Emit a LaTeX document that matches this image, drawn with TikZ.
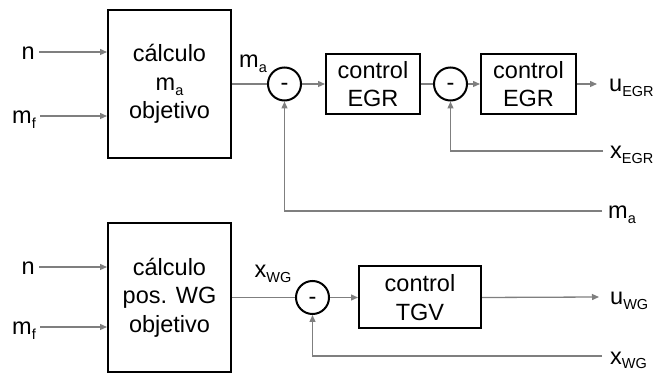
\documentclass[tikz,border=0pt]{standalone}
\usepackage{fontspec}
\setmainfont{Liberation Sans}
\usepackage{tikz}
\usetikzlibrary{arrows.meta,positioning}
\definecolor{SigGray}{HTML}{7F7F7F}
\newcommand{\lowsub}[1]{\raisebox{-5pt}{\fontsize{14.5}{15}\selectfont #1}}

\begin{document}
\begin{tikzpicture}[
    x=1pt, y=-1pt,
    every node/.style={font=\fontsize{23.5}{28.3}\selectfont},
    block/.style={rectangle, draw=black, line width=2pt, align=center, inner sep=0pt},
    calcblock/.style={block, minimum width=123pt, minimum height=148pt},
    ctrlblock/.style={block, minimum width=94pt, minimum height=60pt},
    sumnode/.style={circle, draw=black, line width=2pt, minimum size=33pt, inner sep=0pt, text height=14pt, text depth=0pt},
    siglabel/.style={text=black, inner xsep=4pt, inner ysep=0pt, text height=16pt, text depth=0pt},
    wire/.style={line width=1.3pt, color=SigGray},
    arrow/.style={-{Triangle[length=7pt, width=6pt]}, line width=1.3pt, color=SigGray}
]
\useasboundingbox (0,0) rectangle (654,374);

% Top Layer: EGR loop
\node[calcblock] (calcA) at (169.5,84) {cálculo\\m\lowsub{a}\\objetivo};
\node[sumnode, right=35pt of calcA] (sumA) {-};
\node[ctrlblock, right=23pt of sumA] (ctrlA) {control\\EGR};
\node[sumnode, right=12pt of ctrlA] (sumB) {-};
\node[ctrlblock, minimum width=95pt, right=12pt of sumB] (ctrlB) {control\\EGR};

% Bottom Layer: WG loop
\node[calcblock, minimum height=149pt, below=63pt of calcA] (calcB) {cálculo\\pos. WG\\objetivo};
\node[sumnode, right=63pt of calcB] (sumC) {-};
\node[ctrlblock, minimum width=122pt, minimum height=62pt, right=28pt of sumC] (ctrlC) {control\\TGV};

% Signals
\node[siglabel, anchor=east] (nA) at (39,52) {n};
\node[siglabel, anchor=east] (mfA) at (40,116) {m\lowsub{f}};
\node[siglabel, anchor=east] (nB) at (39,267) {n};
\node[siglabel, anchor=east] (mfB) at (40,327) {m\lowsub{f}};
\node[siglabel, anchor=west, inner xsep=12pt] (uEGR) at (597,84) {u\lowsub{EGR}};
\node[siglabel, anchor=west, inner xsep=7pt] (xEGR) at (603,151) {x\lowsub{EGR}};
\node[siglabel, anchor=west, inner xsep=6pt] (maB) at (602,211) {m\lowsub{a}};
\node[siglabel, anchor=west, inner xsep=11pt] (uWG) at (599,297) {u\lowsub{WG}};
\node[siglabel, anchor=west, inner xsep=8pt] (xWG) at (602,356) {x\lowsub{WG}};

% Connections
\draw[arrow] (nA.east) -- (nA.east -| calcA.west);
\draw[arrow] (mfA.east) -- (mfA.east -| calcA.west);
\draw[arrow] (nB.east) -- (nB.east -| calcB.west);
\draw[arrow] (mfB.east) -- (mfB.east -| calcB.west);
\draw[wire] (calcA) -- node[siglabel, above=16pt, pos=0.6] {m\lowsub{a}} (sumA);
\draw[arrow] (sumA) -- (ctrlA);
\draw[wire] (ctrlA) -- (sumB);
\draw[arrow] (sumB) -- (ctrlB);
\draw[arrow] (ctrlB.east) -- (uEGR.west);
\draw[arrow] (xEGR.west) -| (sumB.south);
\draw[arrow] (maB.west) -| (sumA.south);
\draw[wire] (calcB) -- node[siglabel, above=19pt, pos=0.65] {x\lowsub{WG}} (sumC);
\draw[arrow] (sumC) -- (ctrlC);
\draw[arrow] (ctrlC.east) -- (uWG.west);
\draw[arrow] (xWG.west) -| (sumC.south);

\end{tikzpicture}
\end{document}
